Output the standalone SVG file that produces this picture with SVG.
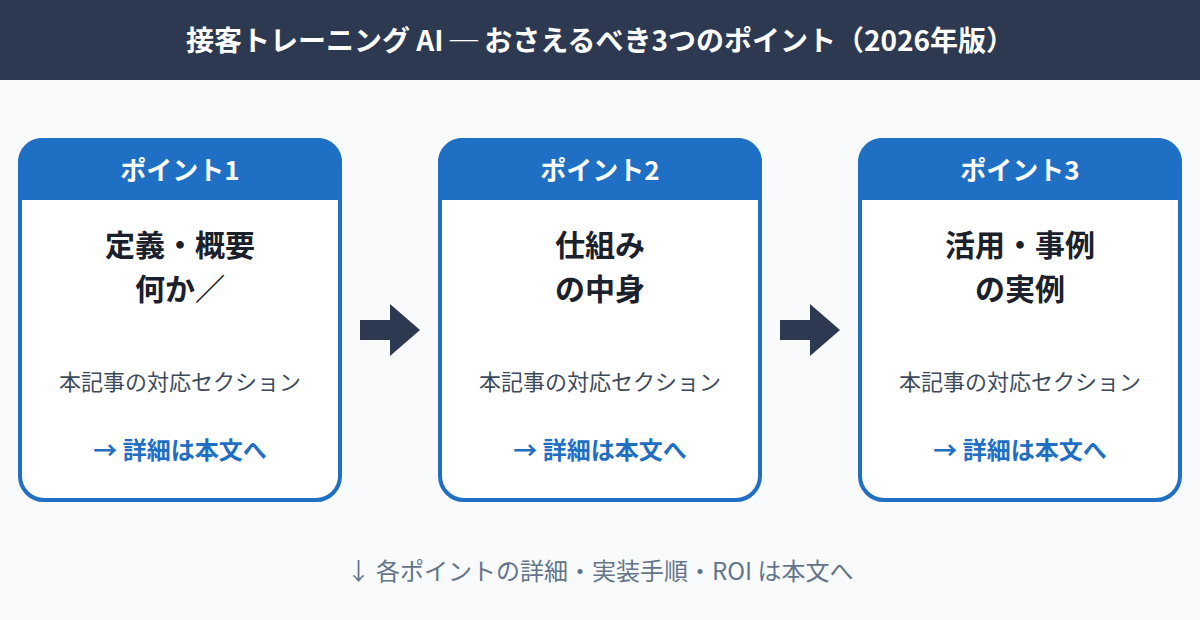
<svg xmlns="http://www.w3.org/2000/svg" width="1200" height="620" viewBox="0 0 1200 620">
<defs><style>
text{font-family:"Noto Sans CJK JP","Noto Sans",sans-serif;text-anchor:middle}
.t{font-size:28px;font-weight:700;fill:#fff}
.d{font-family:"Liberation Serif",serif;font-weight:400}
.h{font-size:26px;font-weight:700;fill:#fff}
.m{font-size:30px;font-weight:700;fill:#1a202c}
.s{font-size:22px;fill:#3d4a5c}
.l{font-size:24px;font-weight:700;fill:#1f6fc5}
.f{font-size:24px;fill:#64748b}
.box{fill:#fff;stroke:#1f6fc5;stroke-width:4}
.hd{fill:#1f6fc5}
.ar{fill:#2d3851}
</style></defs>
<rect width="1200" height="620" fill="#f8fafc"/>
<rect width="1200" height="80" fill="#2d3851"/>
<text class="t" x="600" y="51">接客トレーニング AI <tspan class="d" dy="-4">—</tspan><tspan dy="4"> おさえるべき3つのポイント（2026年版）</tspan></text>
<g id="node1">
<rect class="box" x="20" y="140" width="320" height="360" rx="24"/>
<path class="hd" d="M18 200V162a24 24 0 0 1 24-24H318a24 24 0 0 1 24 24V200Z"/>
<text class="h" x="180" y="180">ポイント1</text>
<text class="m" x="180" y="256">定義・概要</text>
<text class="m" x="180" y="300">何か／</text>
<text class="s" x="180" y="390">本記事の対応セクション</text>
<text class="l" x="180" y="459">→ 詳細は本文へ</text>
</g>
<g id="node2">
<rect class="box" x="440" y="140" width="320" height="360" rx="24"/>
<path class="hd" d="M438 200V162a24 24 0 0 1 24-24H738a24 24 0 0 1 24 24V200Z"/>
<text class="h" x="600" y="180">ポイント2</text>
<text class="m" x="600" y="256">仕組み</text>
<text class="m" x="600" y="300">の中身</text>
<text class="s" x="600" y="390">本記事の対応セクション</text>
<text class="l" x="600" y="459">→ 詳細は本文へ</text>
</g>
<g id="node3">
<rect class="box" x="860" y="140" width="320" height="360" rx="24"/>
<path class="hd" d="M858 200V162a24 24 0 0 1 24-24H1158a24 24 0 0 1 24 24V200Z"/>
<text class="h" x="1020" y="180">ポイント3</text>
<text class="m" x="1020" y="256">活用・事例</text>
<text class="m" x="1020" y="300">の実例</text>
<text class="s" x="1020" y="390">本記事の対応セクション</text>
<text class="l" x="1020" y="459">→ 詳細は本文へ</text>
</g>
<g id="connectors">
<polygon class="ar" points="360,320 390,320 390,304 420,330 390,356 390,340 360,340"/>
<polygon class="ar" points="780,320 810,320 810,304 840,330 810,356 810,340 780,340"/>
</g>
<text class="f" x="600" y="580">↓ 各ポイントの詳細・実装手順・ROI は本文へ</text>
</svg>
